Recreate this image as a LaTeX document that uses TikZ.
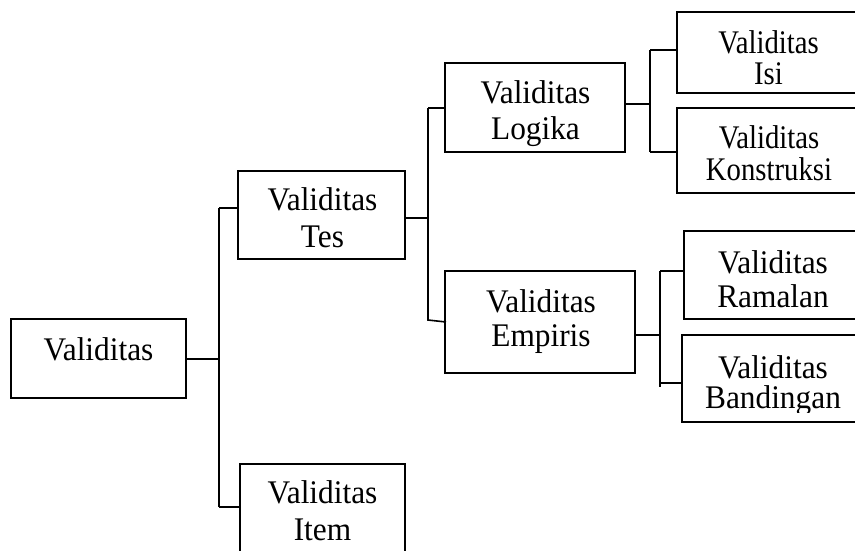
\documentclass[tikz,border=0pt]{standalone}
\usepackage{fontspec}
\setmainfont{Liberation Serif}
\begin{document}
\begin{tikzpicture}[x=1pt,y=-1pt,
  box/.style={draw=black, line width=1.6pt, rectangle, inner sep=0pt, fill=white},
  conn/.style={draw=black, line width=1.6pt},
  txt/.style={anchor=base, inner sep=0pt, font=\fontsize{33}{40}\selectfont}]
\useasboundingbox (0,0) rectangle (855,550);
\clip (0,0) rectangle (855,550);
\fill[white] (0,0) rectangle (855,550);
% boxes
\node[box, minimum width=175pt, minimum height=79pt] (val) at (98.5,358.5) {};
\node[box, minimum width=167pt, minimum height=88pt] (tes) at (321.5,215) {};
\node[box, minimum width=165pt, minimum height=136pt] (item) at (322.5,532) {};
\node[box, minimum width=180pt, minimum height=89pt] (logika) at (535,107.5) {};
\node[box, minimum width=190pt, minimum height=102pt] (empiris) at (540,322) {};
\node[box, minimum width=183pt, minimum height=81pt] (isi) at (768.5,52.5) {};
\node[box, minimum width=183pt, minimum height=85pt] (kons) at (768.5,150.5) {};
\node[box, minimum width=178pt, minimum height=88pt] (ramal) at (773,275) {};
\node[box, minimum width=180pt, minimum height=87pt] (band) at (772,378.5) {};
% texts
\node[txt] (valL1) at (98.5,360) {\scalebox{0.95}[1]{Validitas}};
\node[txt] (tesL1) at (322.5,210) {\scalebox{0.95}[1]{Validitas}};
\node[txt] (tesL2) at (322.5,247) {\scalebox{0.95}[1]{Tes}};
\node[txt] (itemL1) at (322.5,503) {\scalebox{0.95}[1]{Validitas}};
\node[txt] (itemL2) at (322.5,540) {\scalebox{0.95}[1]{Item}};
\node[txt] (logL1) at (535.5,103) {\scalebox{0.95}[1]{Validitas}};
\node[txt] (logL2) at (535.5,139) {\scalebox{0.95}[1]{Logika}};
\node[txt] (empL1) at (541,312) {\scalebox{0.95}[1]{Validitas}};
\node[txt] (empL2) at (541,346) {\scalebox{0.95}[1]{Empiris}};
\node[txt] (isiL1) at (768.5,53) {\scalebox{0.87}[1]{Validitas}};
\node[txt] (isiL2) at (768.5,84) {\scalebox{0.87}[1]{Isi}};
\node[txt] (konL1) at (769,148) {\scalebox{0.87}[1]{Validitas}};
\node[txt] (konL2) at (769,180) {\scalebox{0.87}[1]{Konstruksi}};
\node[txt] (ramL1) at (773,273) {\scalebox{0.95}[1]{Validitas}};
\node[txt] (ramL2) at (773,307) {\scalebox{0.95}[1]{Ramalan}};
\node[txt] (banL1) at (773,378) {\scalebox{0.95}[1]{Validitas}};
\begin{scope}
\clip (683,335) rectangle (855,412);
\node[txt] (banL2) at (773,408) {\scalebox{0.95}[1]{Bandingan}};
\end{scope}
% junction coordinates
\coordinate (a0) at (219,359);
\coordinate (a1) at (219,208);
\coordinate (a2) at (219,507);
\coordinate (b0) at (428,218);
\coordinate (b1) at (428,108);
\coordinate (b2) at (428,320);
\coordinate (b2e) at (446,322);
\coordinate (c0) at (650,104);
\coordinate (c1) at (650,50);
\coordinate (c2) at (650,152);
\coordinate (d0) at (660,335);
\coordinate (d1) at (660,271);
\coordinate (d2) at (660,383);
\coordinate (d3) at (660,387);
% connectors
\draw[conn] (val.east |- a0) -- (a0);
\draw[conn] (a1) -- (a2);
\draw[conn] (a1) -- (a1 -| tes.west);
\draw[conn] (a2) -- (a2 -| item.west);
\draw[conn] (tes.east |- b0) -- (b0);
\draw[conn] (b1) -- (b2) -- (b2e);
\draw[conn] (b1) -- (b1 -| logika.west);
\draw[conn] (logika.east |- c0) -- (c0);
\draw[conn] (c1) -- (c2);
\draw[conn] (c1) -- (c1 -| isi.west);
\draw[conn] (c2) -- (c2 -| kons.west);
\draw[conn] (empiris.east |- d0) -- (d0);
\draw[conn] (d1) -- (d3);
\draw[conn] (d1) -- (d1 -| ramal.west);
\draw[conn] (d2) -- (d2 -| band.west);
\end{tikzpicture}
\end{document}
